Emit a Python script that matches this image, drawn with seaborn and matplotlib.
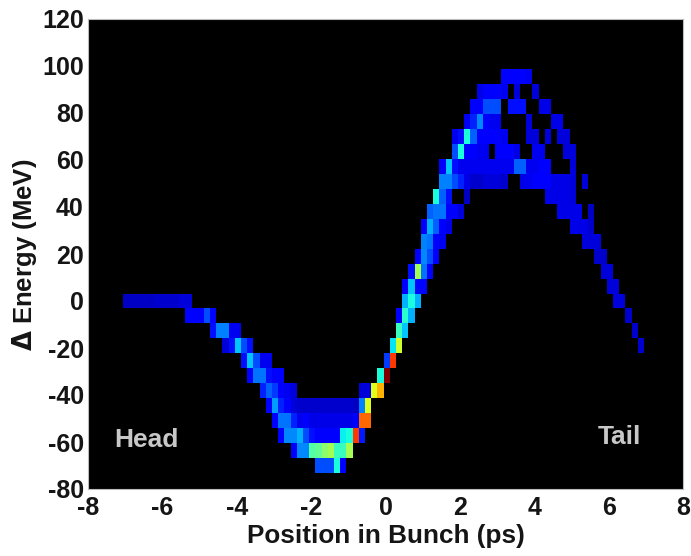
import numpy as np
import pandas as pd
import matplotlib
matplotlib.use("Agg")
import matplotlib.pyplot as plt
import seaborn as sns

# each row: (first column, intensities 0-100), 0 = empty cell
# row number * energy_step = energy of that row
r_p15 = (61, [12, 11, 11, 12, 10])
r_p14 = (57, [9, 12, 12, 12, 10, 0, 8, 0, 0, 8])
r_p13 = (56, [11, 11, 20, 20, 20, 0, 14, 14, 14, 0, 0, 9, 9])
r_p12 = (55, [10, 16, 26, 12, 10, 10, 0, 0, 0, 0, 8, 0, 0, 0, 9, 9])
r_p11 = (53, [10, 14, 38, 22, 12, 11, 11, 11, 10, 0, 0, 0, 8, 8, 0, 8, 0, 8, 8])
r_p10 = (53, [20, 38, 12, 12, 10, 10, 0, 11, 11, 11, 9, 0, 0, 10, 10, 0, 0, 0, 8, 8])
r_p9 = (51, [12, 32, 14, 10, 10, 10, 10, 10, 10, 10, 10, 10, 22, 22, 10, 10, 12, 12, 0, 0, 0, 8])
r_p8 = (51, [25, 25, 20, 16, 9, 7, 7, 8, 8, 8, 7, 0, 0, 9, 10, 12, 12, 12, 9, 9, 9, 8, 0, 8])
r_p7 = (50, [38, 22, 14, 0, 0, 6, 0, 0, 0, 0, 0, 0, 0, 0, 0, 0, 0, 0, 9, 9, 9, 9, 8])
r_p6 = (49, [22, 24, 24, 11, 11, 8, 0, 0, 0, 0, 0, 0, 0, 0, 0, 0, 0, 0, 0, 0, 0, 9, 9, 9, 9, 0, 6])
r_p5 = (48, [12, 30, 22, 11, 9, 0, 0, 0, 0, 0, 0, 0, 0, 0, 0, 0, 0, 0, 0, 0, 0, 0, 0, 0, 9, 9, 9, 7])
r_p4 = (48, [25, 24, 11, 10, 0, 0, 0, 0, 0, 0, 0, 0, 0, 0, 0, 0, 0, 0, 0, 0, 0, 0, 0, 0, 0, 0, 8, 8, 8])
r_p3 = (47, [12, 26, 20, 12, 0, 0, 0, 0, 0, 0, 0, 0, 0, 0, 0, 0, 0, 0, 0, 0, 0, 0, 0, 0, 0, 0, 0, 0, 0, 7, 7])
r_p2 = (46, [14, 55, 24, 12, 0, 0, 0, 0, 0, 0, 0, 0, 0, 0, 0, 0, 0, 0, 0, 0, 0, 0, 0, 0, 0, 0, 0, 0, 0, 0, 0, 8, 8])
r_p1 = (45, [12, 32, 13, 13, 0, 0, 0, 0, 0, 0, 0, 0, 0, 0, 0, 0, 0, 0, 0, 0, 0, 0, 0, 0, 0, 0, 0, 0, 0, 0, 0, 0, 0, 8, 8])
r_0 = (0, [6, 6, 6, 6, 6, 7, 7, 7, 7, 8, 8])
r_0b = (45, [30, 38, 30])
r_0c = (79, [8, 8])
r_m1 = (10, [11, 11, 12, 20, 13])
r_m1b = (44, [12, 40, 30])
r_m1c = (81, [7])
r_m2 = (14, [14, 25, 25, 10, 10])
r_m2b = (44, [42, 32])
r_m2c = (82, [7])
r_m3 = (16, [8, 14, 32, 20, 14])
r_m3b = (43, [35, 60])
r_m3c = (83, [7])
r_m4 = (19, [14, 32, 20, 10, 10])
r_m4b = (42, [18, 85])
r_m5 = (20, [12, 24, 24, 14, 12, 12])
r_m5b = (41, [38, 100])
r_m6 = (22, [16, 22, 18, 12, 10, 8])
r_m6b = (38, [8, 8, 62, 72])
r_m7 = (23, [12, 28, 16, 11, 8, 7, 7, 7, 7, 7, 7, 7, 7, 7, 6, 25, 62])
r_m8 = (24, [12, 24, 24, 16, 10, 12, 9, 9, 9, 9, 9, 9, 9, 12, 80, 80])
r_m9 = (25, [12, 26, 26, 30, 20, 14, 12, 12, 12, 12, 36, 38, 85, 15])
r_m10 = (27, [12, 26, 26, 45, 47, 52, 55, 42, 42, 55])
r_m11 = (31, [20, 20, 20, 38, 12])

row_numbers = [15, 14, 13, 12, 11, 10, 9, 8, 7, 6, 5, 4, 3, 2, 1,
               0, 0, 0, -1, -1, -1, -2, -2, -2, -3, -3, -3,
               -4, -4, -5, -5, -6, -6, -7, -8, -9, -10, -11]
row_data = [r_p15, r_p14, r_p13, r_p12, r_p11, r_p10, r_p9, r_p8, r_p7, r_p6, r_p5, r_p4, r_p3, r_p2, r_p1,
            r_0, r_0b, r_0c, r_m1, r_m1b, r_m1c, r_m2, r_m2b, r_m2c, r_m3, r_m3b, r_m3c,
            r_m4, r_m4b, r_m5, r_m5b, r_m6, r_m6b, r_m7, r_m8, r_m9, r_m10, r_m11]

energy_step = 6.38
cols_per_ps = 6
first_col_ps = -7.05
n_cols = 84

x_ticks = [-8, -6, -4, -2, 0, 2, 4, 6, 8]
y_ticks = [120, 100, 80, 60, 40, 20, 0, -20, -40, -60, -80]

# build the table for the heatmap
rows = list(range(15, -12, -1))
table = pd.DataFrame(0.0, index=rows, columns=range(n_cols))
for num, (start, vals) in zip(row_numbers, row_data):
    for i, v in enumerate(vals):
        if v > 0:
            table.loc[num, start + i] = v


def to_x(ps):
    return (ps - first_col_ps) * cols_per_ps


def to_y(mev):
    return 15.5 - mev / energy_step


plt.rcParams['font.family'] = ['Liberation Sans', 'DejaVu Sans']
plt.rcParams['font.weight'] = 'bold'

fig = plt.figure(figsize=(6.91, 5.56), dpi=100)
ax = fig.add_axes([88 / 691, 1 - 489 / 556, 595 / 691, 470 / 556])
ax.set_facecolor("black")
sns.heatmap(table, mask=table == 0, cmap="jet", vmin=0, vmax=100, cbar=False, ax=ax,
            xticklabels=False, yticklabels=False)

ax.set_xlim(to_x(-8), to_x(8))
ax.set_ylim(to_y(-80), to_y(120))
ax.set_xticks([to_x(t) for t in x_ticks])
ax.set_xticklabels([str(t) for t in x_ticks], fontsize=18, rotation=0)
ax.set_yticks([to_y(t) for t in y_ticks])
ax.set_yticklabels([str(t) for t in y_ticks], fontsize=18, rotation=0)
ax.tick_params(length=0, colors="#151515")
ax.tick_params(axis="y", pad=3)
ax.tick_params(axis="x", pad=5)
for s in ax.spines.values():
    s.set_visible(True)
    s.set_color("#bbbbbb")
    s.set_linewidth(0.8)

ax.set_xlabel("Position in Bunch (ps)", fontsize=18.8, fontweight="bold", color="#151515", labelpad=3)
ax.set_ylabel("$\\Delta$ Energy (MeV)", fontsize=18.5, fontweight="bold", color="#151515")
ax.yaxis.set_label_coords(-0.082, 0.498)

ax.text(to_x(-6.42), to_y(-59), "Head", color="#c8c8c8", fontsize=19, fontweight="bold", ha="center", va="center")
ax.text(to_x(6.3), to_y(-58), "Tail", color="#c8c8c8", fontsize=19, fontweight="bold", ha="center", va="center")

fig.savefig("out.png", dpi=100)
